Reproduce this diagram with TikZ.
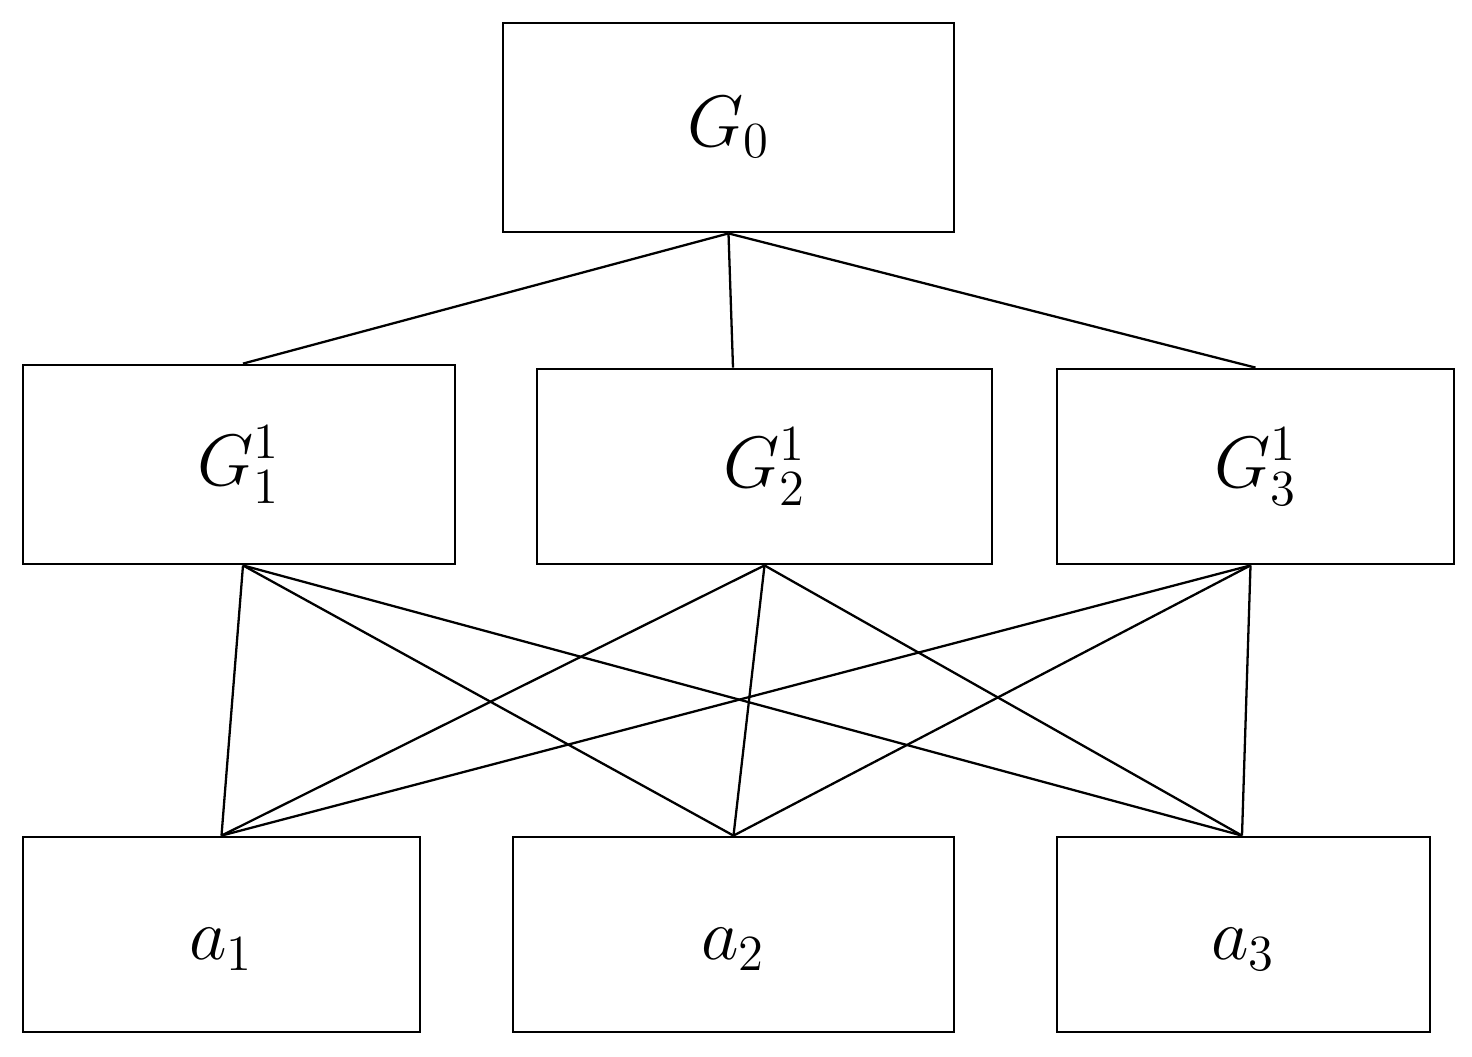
\documentclass[tikz,border=0pt]{standalone}
\usetikzlibrary{calc}
\begin{document}
\begin{tikzpicture}[
  box/.style={draw=black, line width=0.8pt, rectangle, inner sep=0pt, font=\fontsize{20}{24}\selectfont},
  lowtext/.style={text depth=0.3cm},
  link/.style={draw=black, line width=0.65pt}
]
\useasboundingbox (0,0) rectangle (14.72,-10.56);
\node[box, minimum width=4.51cm, minimum height=2.09cm] (g0) at (7.285,-1.275) {$G_0$};
\node[box, minimum width=4.32cm, minimum height=1.99cm] (g1) at (2.39,-4.645) {$G_1^1$};
\node[box, minimum width=4.55cm, minimum height=1.95cm] (g2) at (7.645,-4.665) {$G_2^1$};
\node[box, minimum width=3.97cm, minimum height=1.95cm] (g3) at (12.555,-4.665) {$G_3^1$};
\node[box, minimum width=3.97cm, minimum height=1.95cm] (a1) at (2.215,-9.345) {};
\node[box, minimum width=4.41cm, minimum height=1.95cm] (a2) at (7.335,-9.345) {};
\node[box, minimum width=3.73cm, minimum height=1.95cm] (a3) at (12.435,-9.345) {};
\node[font=\fontsize{20}{24}\selectfont, inner sep=0pt] (a1l) at ($(a1.center)+(0,-0.15)$) {$a_1$};
\node[font=\fontsize{20}{24}\selectfont, inner sep=0pt] (a2l) at ($(a2.center)+(0,-0.15)$) {$a_2$};
\node[font=\fontsize{20}{24}\selectfont, inner sep=0pt] (a3l) at ($(a3.center)+(0,-0.15)$) {$a_3$};
\coordinate (g1t) at ($(g1.north)+(0.04,0)$);
\coordinate (g2t) at ($(g2.north)+(-0.315,0)$);
\coordinate (g1b) at ($(g1.south)+(0.04,0)$);
\coordinate (g3b) at ($(g3.south)+(-0.05,0)$);
\coordinate (a3t) at ($(a3.north)+(-0.015,0)$);
\draw[link] (g0.south) -- (g1t);
\draw[link] (g0.south) -- (g2t);
\draw[link] (g0.south) -- (g3.north);
\foreach \s in {g1b, g2.south, g3b} {
  \draw[link] (\s) -- (a1.north);
  \draw[link] (\s) -- (a2.north);
  \draw[link] (\s) -- (a3t);
}
\end{tikzpicture}
\end{document}
